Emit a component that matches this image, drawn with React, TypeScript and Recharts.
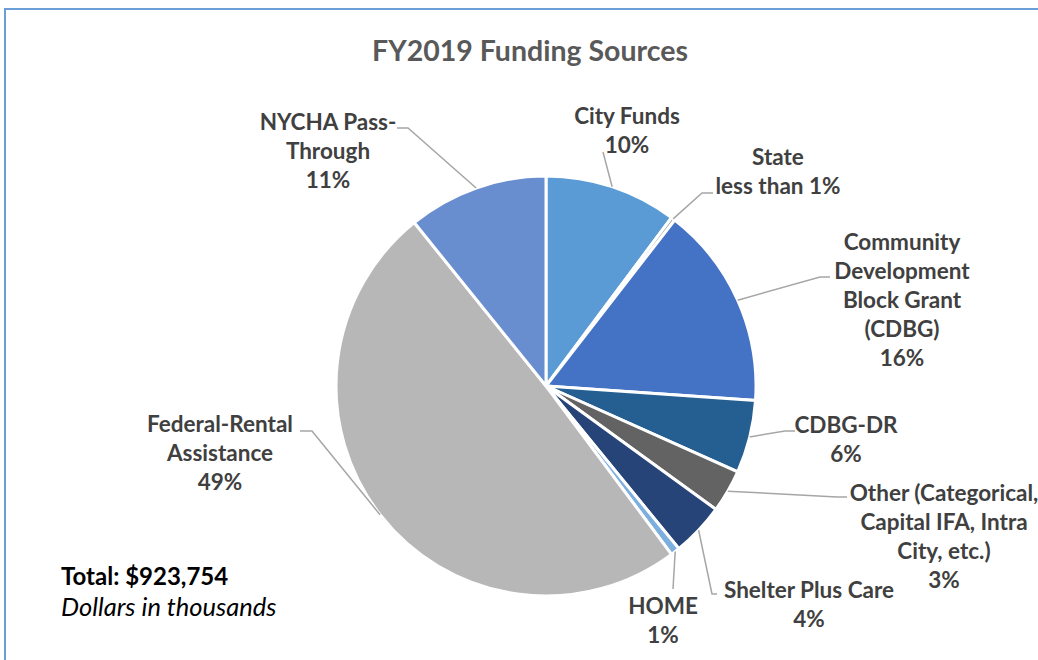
import React from "react";
import { PieChart, Pie, Cell } from "recharts";

// ---- data ----
const categories = [
  "City Funds",
  "State",
  "Community Development Block Grant (CDBG)",
  "CDBG-DR",
  "Other (Categorical, Capital IFA, Intra City, etc.)",
  "Shelter Plus Care",
  "HOME",
  "Federal-Rental Assistance",
  "NYCHA Pass-Through",
];
// dollars in thousands (total 923,754)
const amounts = [94200, 2800, 144100, 51700, 30500, 37900, 6500, 456300, 99754];
const percentText = ["10%", "less than 1%", "16%", "6%", "3%", "4%", "1%", "49%", "11%"];
const labelLines = [
  ["City Funds"],
  ["State"],
  ["Community", "Development", "Block Grant", "(CDBG)"],
  ["CDBG-DR"],
  ["Other (Categorical,", "Capital IFA, Intra", "City, etc.)"],
  ["Shelter Plus Care"],
  ["HOME"],
  ["Federal-Rental", "Assistance"],
  ["NYCHA Pass-", "Through"],
];
const totalText = "Total: $923,754";
const unitText = "Dollars in thousands";
const titleText = "FY2019 Funding Sources";

// ---- styles ----
const colors = ["#5B9BD5", "#A5A5A5", "#4472C4", "#255E91", "#636363", "#264478", "#7CAFDD", "#B7B7B7", "#698ED0"];

// label layout relative to pie center: text center x, first line center y, leader end & elbow
const labelLayout = [
  { tx: 81, ty: -270, end: [57, -234], elbow: null },
  { tx: 232, ty: -229, end: [167, -193], elbow: [156, -193] },
  { tx: 356, ty: -144, end: [284, -109], elbow: [274, -109] },
  { tx: 300, ty: 39, end: [249, 45], elbow: [239, 45] },
  { tx: 398, ty: 107, end: [301, 111], elbow: [291, 111] },
  { tx: 263, ty: 204, end: [171, 208], elbow: [166, 208] },
  { tx: 117, ty: 220, end: [127, 203], elbow: null },
  { tx: -326, ty: 38, end: [-246, 45], elbow: [-234, 45] },
  { tx: -218, ty: -264, end: [-149, -258], elbow: [-138, -258] },
];

const data = categories.map((name, i) => ({ name, value: amounts[i] }));

const RADIAN = Math.PI / 180;
const LINE_H = 29;
const FONT = "Lato, 'Open Sans', sans-serif";

const renderLabel = (props: any) => {
  const { cx, cy, midAngle, outerRadius, index } = props;
  const lay = labelLayout[index];
  const ex = cx + outerRadius * Math.cos(-midAngle * RADIAN);
  const ey = cy + outerRadius * Math.sin(-midAngle * RADIAN);
  const pts: number[][] = [[ex, ey]];
  if (lay.elbow) pts.push([cx + lay.elbow[0], cy + lay.elbow[1]]);
  pts.push([cx + lay.end[0], cy + lay.end[1]]);
  const lines = [...labelLines[index], percentText[index]];
  return (
    <g key={`lbl-${index}`}>
      <polyline
        points={pts.map((p) => p.join(",")).join(" ")}
        fill="none"
        stroke="#A6A6A6"
        strokeWidth={1.5}
      />
      <text
        x={cx + lay.tx}
        y={cy + lay.ty}
        textAnchor="middle"
        fill="#404040"
        fontFamily={FONT}
        fontWeight={700}
        fontSize={22.5}
      >
        {lines.map((l, j) => (
          <tspan key={j} x={cx + lay.tx} y={cy + lay.ty + j * LINE_H} dy="0.35em">
            {l}
          </tspan>
        ))}
      </text>
    </g>
  );
};

export default function App() {
  return (
    <div style={{ position: "fixed", left: 0, top: 0, width: 1038, height: 660, overflow: "hidden", background: "#fff" }}>
      <div
        style={{
          position: "absolute",
          left: 0,
          top: 32,
          width: 1060,
          textAlign: "center",
          fontFamily: FONT,
          fontWeight: 700,
          fontSize: 28.5,
          color: "#595959",
          lineHeight: "36px",
        }}
      >
        {titleText}
      </div>
      <div style={{ position: "absolute", left: 0, top: 0 }}>
        <PieChart width={1038} height={660} margin={{ top: 0, right: 0, bottom: 0, left: 0 }}>
          <Pie
            data={data}
            dataKey="value"
            nameKey="name"
            cx={546}
            cy={386}
            outerRadius={210}
            startAngle={90}
            endAngle={-270}
            stroke="#FFFFFF"
            strokeWidth={3}
            label={renderLabel}
            labelLine={false}
            isAnimationActive={false}
          >
            {data.map((d, i) => (
              <Cell key={d.name} fill={colors[i]} />
            ))}
          </Pie>
        </PieChart>
      </div>
      <div
        style={{
          position: "absolute",
          left: 61,
          top: 561,
          fontFamily: FONT,
          color: "#000",
          lineHeight: "30px",
        }}
      >
        <div style={{ fontWeight: 700, fontSize: 24 }}>{totalText}</div>
        <div style={{ fontStyle: "italic", fontSize: 25.5 }}>{unitText}</div>
      </div>
      <div
        style={{
          position: "absolute",
          left: 4,
          top: 8,
          width: 1034,
          height: 652,
          borderTop: "2px solid #6A9FD8",
          borderLeft: "2px solid #6A9FD8",
          boxSizing: "border-box",
          pointerEvents: "none",
        }}
      />
    </div>
  );
}
